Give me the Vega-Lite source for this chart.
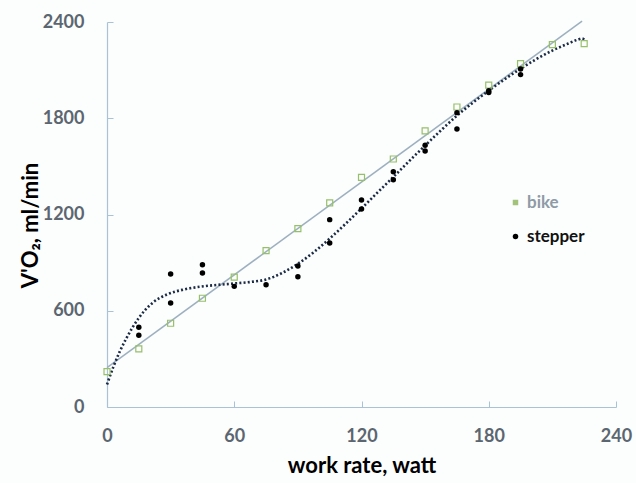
{
  "$schema": "https://vega.github.io/schema/vega-lite/v6.json",
  "width": 509,
  "height": 385,
  "autosize": "none",
  "padding": {"left": 107, "top": 22, "right": 20, "bottom": 76},
  "background": "#fcfdfd",
  "config": {
    "view": {"stroke": null},
    "font": "Lato",
    "axis": {
      "grid": false,
      "domainColor": "#a9c2d6",
      "domainWidth": 1.2,
      "tickColor": "#a9c2d6",
      "tickSize": -6,
      "labelFlush": false,
      "labelFont": "Lato",
      "labelFontSize": 18,
      "labelFontWeight": "bold",
      "labelColor": "#5b6670",
      "titleFont": "Lato",
      "titleFontSize": 22,
      "titleFontWeight": "bold",
      "titleColor": "#000000"
    }
  },
  "datasets": {
    "bike": [
      {"watt": 0, "vo2": 220}, {"watt": 15, "vo2": 362}, {"watt": 30, "vo2": 522},
      {"watt": 45, "vo2": 678}, {"watt": 60, "vo2": 810}, {"watt": 75, "vo2": 975},
      {"watt": 90, "vo2": 1112}, {"watt": 105, "vo2": 1272}, {"watt": 120, "vo2": 1432},
      {"watt": 135, "vo2": 1546}, {"watt": 150, "vo2": 1721}, {"watt": 165, "vo2": 1870},
      {"watt": 180, "vo2": 2007}, {"watt": 195, "vo2": 2140}, {"watt": 210, "vo2": 2259},
      {"watt": 225, "vo2": 2265}
    ],
    "stepper": [
      {"watt": 15, "vo2": 497, "series": "stepper"}, {"watt": 15, "vo2": 447, "series": "stepper"},
      {"watt": 30, "vo2": 829, "series": "stepper"}, {"watt": 30, "vo2": 648, "series": "stepper"},
      {"watt": 45, "vo2": 887, "series": "stepper"}, {"watt": 45, "vo2": 835, "series": "stepper"},
      {"watt": 60, "vo2": 752, "series": "stepper"}, {"watt": 75, "vo2": 762, "series": "stepper"},
      {"watt": 90, "vo2": 879, "series": "stepper"}, {"watt": 90, "vo2": 812, "series": "stepper"},
      {"watt": 105, "vo2": 1168, "series": "stepper"}, {"watt": 105, "vo2": 1022, "series": "stepper"},
      {"watt": 120, "vo2": 1290, "series": "stepper"}, {"watt": 120, "vo2": 1234, "series": "stepper"},
      {"watt": 135, "vo2": 1467, "series": "stepper"}, {"watt": 135, "vo2": 1417, "series": "stepper"},
      {"watt": 150, "vo2": 1631, "series": "stepper"}, {"watt": 150, "vo2": 1596, "series": "stepper"},
      {"watt": 165, "vo2": 1733, "series": "stepper"}, {"watt": 165, "vo2": 1835, "series": "stepper"},
      {"watt": 180, "vo2": 1972, "series": "stepper"}, {"watt": 180, "vo2": 1960, "series": "stepper"},
      {"watt": 195, "vo2": 2107, "series": "stepper"}, {"watt": 195, "vo2": 2072, "series": "stepper"}
    ],
    "bikeFit": [
      {"watt": 0, "vo2": 245}, {"watt": 224, "vo2": 2405}
    ],
    "stepperFit": [
      {"watt": 0, "vo2": 140}, {"watt": 3, "vo2": 250}, {"watt": 6, "vo2": 345},
      {"watt": 9, "vo2": 425}, {"watt": 12, "vo2": 495}, {"watt": 15, "vo2": 555},
      {"watt": 18, "vo2": 605}, {"watt": 22, "vo2": 655}, {"watt": 28, "vo2": 700},
      {"watt": 36, "vo2": 732}, {"watt": 44, "vo2": 750}, {"watt": 52, "vo2": 761},
      {"watt": 60, "vo2": 770}, {"watt": 67.5, "vo2": 779}, {"watt": 75, "vo2": 795},
      {"watt": 82.5, "vo2": 835}, {"watt": 90, "vo2": 893}, {"watt": 97.5, "vo2": 965},
      {"watt": 105, "vo2": 1050}, {"watt": 112.5, "vo2": 1142}, {"watt": 120, "vo2": 1238},
      {"watt": 127.5, "vo2": 1336}, {"watt": 135, "vo2": 1434}, {"watt": 142.5, "vo2": 1533},
      {"watt": 150, "vo2": 1630}, {"watt": 157.5, "vo2": 1725}, {"watt": 165, "vo2": 1816},
      {"watt": 172.5, "vo2": 1897}, {"watt": 180, "vo2": 1972}, {"watt": 187.5, "vo2": 2043},
      {"watt": 195, "vo2": 2109}, {"watt": 202.5, "vo2": 2169}, {"watt": 210, "vo2": 2222},
      {"watt": 217.5, "vo2": 2266}, {"watt": 222, "vo2": 2290}, {"watt": 224, "vo2": 2297},
      {"watt": 225.5, "vo2": 2284}
    ]
  },
  "encoding": {
    "x": {
      "field": "watt", "type": "quantitative",
      "scale": {"domain": [0, 240], "nice": false, "zero": false},
      "axis": {"values": [0, 60, 120, 180, 240], "format": "d", "title": "work rate, watt", "labelPadding": 26, "titlePadding": 10}
    },
    "y": {
      "field": "vo2", "type": "quantitative",
      "scale": {"domain": [0, 2400], "nice": false},
      "axis": {"values": [0, 600, 1200, 1800, 2400], "format": "d", "title": "V'O₂, ml/min", "labelPadding": 29, "titlePadding": 0, "titleY": 203}
    }
  },
  "layer": [
    {
      "data": {"name": "bikeFit"},
      "mark": {"type": "line", "color": "#9db0bf", "strokeWidth": 1.5}
    },
    {
      "data": {"name": "stepperFit"},
      "mark": {"type": "line", "color": "#1c2b45", "strokeWidth": 2.6, "strokeDash": [2, 2.2], "interpolate": "monotone"}
    },
    {
      "data": {"name": "bike"},
      "mark": {"type": "point", "shape": "square", "filled": false, "color": "#97c06a", "strokeWidth": 1.2, "size": 36, "opacity": 1}
    },
    {
      "data": {"name": "stepper"},
      "mark": {"type": "point", "filled": true, "size": 30, "opacity": 1},
      "encoding": {
        "color": {
          "field": "series", "type": "nominal",
          "scale": {"domain": ["bike", "stepper"], "range": ["#a3c27a", "#000000"]},
          "legend": {
            "orient": "none", "legendX": 400, "legendY": 172, "title": null,
            "labelFont": "Lato", "labelFontSize": 17, "labelFontWeight": "bold",
            "labelColor": {"expr": "datum.label === 'bike' ? '#8e9ba6' : '#111111'"},
            "symbolSize": 30, "rowPadding": 16, "labelOffset": 3
          }
        },
        "shape": {
          "field": "series", "type": "nominal",
          "scale": {"domain": ["bike", "stepper"], "range": ["square", "circle"]}
        }
      }
    }
  ]
}
